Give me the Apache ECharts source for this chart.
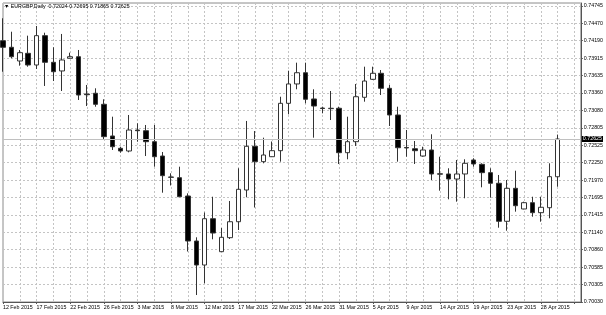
<!DOCTYPE html>
<html>
<head>
<meta charset="utf-8">
<script src="https://cdn.jsdelivr.net/npm/echarts@6/dist/echarts.min.js"></script>
<style>html,body{margin:0;padding:0;background:#fff}#c{width:606px;height:315px}</style>
</head>
<body>
<div id="c"></div>
<script>
const symbolName = 'EURGBP,Daily';
const dates = ['12 Feb 2015','13 Feb 2015','15 Feb 2015','16 Feb 2015','17 Feb 2015','18 Feb 2015','19 Feb 2015','20 Feb 2015','22 Feb 2015','23 Feb 2015','24 Feb 2015','25 Feb 2015','26 Feb 2015','27 Feb 2015','1 Mar 2015','2 Mar 2015','3 Mar 2015','4 Mar 2015','5 Mar 2015','6 Mar 2015','8 Mar 2015','9 Mar 2015','10 Mar 2015','11 Mar 2015','12 Mar 2015','13 Mar 2015','15 Mar 2015','16 Mar 2015','17 Mar 2015','18 Mar 2015','19 Mar 2015','20 Mar 2015','22 Mar 2015','23 Mar 2015','24 Mar 2015','25 Mar 2015','26 Mar 2015','27 Mar 2015','29 Mar 2015','30 Mar 2015','31 Mar 2015','1 Apr 2015','2 Apr 2015','3 Apr 2015','5 Apr 2015','6 Apr 2015','7 Apr 2015','8 Apr 2015','9 Apr 2015','10 Apr 2015','12 Apr 2015','13 Apr 2015','14 Apr 2015','15 Apr 2015','16 Apr 2015','17 Apr 2015','19 Apr 2015','20 Apr 2015','21 Apr 2015','22 Apr 2015','23 Apr 2015','24 Apr 2015','26 Apr 2015','27 Apr 2015','28 Apr 2015','29 Apr 2015','30 Apr 2015'];
const openP = [0.74190,0.74085,0.73867,0.73989,0.73803,0.74270,0.73846,0.73708,0.73910,0.73935,0.73341,0.73353,0.73177,0.72673,0.72477,0.72434,0.72768,0.72757,0.72582,0.72354,0.72020,0.72009,0.71717,0.71001,0.70619,0.71356,0.70831,0.71054,0.71308,0.71813,0.72509,0.72264,0.72343,0.72439,0.73193,0.73501,0.73680,0.73262,0.73118,0.73108,0.73114,0.72407,0.72582,0.73289,0.73575,0.73671,0.73432,0.73007,0.72490,0.72470,0.72354,0.72450,0.72071,0.72068,0.71988,0.72068,0.72291,0.72222,0.72089,0.71920,0.71315,0.71840,0.71511,0.71611,0.71452,0.71531,0.72024];
const closeP = [0.74085,0.73935,0.73999,0.73803,0.74270,0.73846,0.73696,0.73883,0.73935,0.73325,0.73330,0.73177,0.72662,0.72502,0.72434,0.72768,0.72757,0.72582,0.72343,0.72041,0.72015,0.71706,0.71001,0.70619,0.71356,0.71128,0.71060,0.71308,0.71824,0.72509,0.72264,0.72370,0.72439,0.73193,0.73501,0.73680,0.73257,0.73150,0.73110,0.73114,0.72407,0.72582,0.73298,0.73548,0.73671,0.73432,0.73007,0.72486,0.72482,0.72439,0.72450,0.72068,0.72065,0.71988,0.72068,0.72238,0.72227,0.72089,0.71920,0.71315,0.71840,0.71563,0.71611,0.71452,0.71538,0.72025,0.72625];
const lowP = [0.73696,0.73910,0.73792,0.73776,0.73739,0.73469,0.73548,0.73389,0.73905,0.73246,0.73150,0.73139,0.72609,0.72450,0.72407,0.72413,0.72582,0.72354,0.72184,0.71770,0.71885,0.71700,0.70834,0.70141,0.70328,0.71028,0.70826,0.71033,0.71176,0.71697,0.71534,0.72238,0.72338,0.72264,0.73018,0.73416,0.73193,0.72646,0.73034,0.72927,0.72227,0.72302,0.72514,0.73219,0.73564,0.73325,0.72832,0.72264,0.72343,0.72227,0.72343,0.71972,0.71802,0.71665,0.71627,0.71681,0.72184,0.71856,0.71691,0.71213,0.71165,0.71468,0.71506,0.71388,0.71308,0.71363,0.71865];
const highP = [0.74547,0.74333,0.74042,0.74270,0.74424,0.74317,0.74085,0.74297,0.73999,0.74042,0.73485,0.73432,0.73257,0.72980,0.72502,0.73007,0.72875,0.72848,0.72848,0.72418,0.72079,0.72184,0.71760,0.71060,0.71455,0.71706,0.71208,0.71638,0.72159,0.72912,0.72752,0.72646,0.72585,0.73298,0.73712,0.73840,0.73840,0.73416,0.73139,0.73389,0.73139,0.72980,0.73501,0.73776,0.73776,0.73723,0.73485,0.73139,0.72768,0.72593,0.72502,0.72700,0.72343,0.72159,0.72291,0.72302,0.72318,0.72238,0.72159,0.72052,0.71972,0.72120,0.71627,0.71706,0.71706,0.72238,0.72695];
const priceTicks = ['0.70030','0.70305','0.70585','0.70860','0.71140','0.71415','0.71695','0.71970','0.72250','0.72525','0.72805','0.73080','0.73360','0.73635','0.73915','0.74190','0.74470','0.74745'];

const yMin = 0.70030, yStep = 0.0027735, yMax = 0.74790;
const xMax = 68.76;
const FONT = 'Liberation Sans';
const FS = 5.3;
const last = dates.length - 1;
const candles = dates.map((d, i) => [i, openP[i], closeP[i], lowP[i], highP[i]]);
const titleText = '\u25BC ' + symbolName + '  ' + [openP[last], highP[last], lowP[last], closeP[last]].map(v => v.toFixed(5)).join(' ');

const chart = echarts.init(document.getElementById('c'), null, {renderer: 'canvas'});
const gridLine = {show: true, lineStyle: {color: '#c4c4c4', type: [2, 2], width: 1}};
const option = {
  animation: false,
  backgroundColor: '#fff',
  title: {text: titleText, left: 4, top: 4, padding: 0,
    textStyle: {fontSize: FS, fontWeight: 'normal', color: '#000', fontFamily: FONT}},
  grid: {left: 3, right: 24, top: 3, bottom: 13, show: true, borderColor: '#8c8c8c', borderWidth: 1, backgroundColor: '#fff'},
  xAxis: [
    {type: 'value', min: 0, max: xMax, interval: 4, position: 'bottom',
      axisLine: {show: true, onZero: false, lineStyle: {color: '#555'}},
      axisTick: {show: true, length: 2, lineStyle: {color: '#555'}},
      axisLabel: {fontSize: FS, color: '#000', fontFamily: FONT, align: 'left', margin: 3, showMaxLabel: false,
        formatter: v => (Number.isInteger(v) && v % 4 === 0 && v < dates.length) ? dates[v] : ''},
      splitLine: {show: false}},
    {type: 'value', min: 0, max: xMax, interval: 2, position: 'bottom',
      axisLine: {show: false}, axisTick: {show: false}, axisLabel: {show: false},
      splitLine: gridLine}
  ],
  yAxis: {type: 'value', position: 'right', min: yMin, max: yMax, interval: yStep,
    axisLine: {show: true, onZero: false, lineStyle: {color: '#555'}},
    axisTick: {show: true, length: 2, lineStyle: {color: '#555'}},
    axisLabel: {fontSize: FS, color: '#000', fontFamily: FONT, margin: 3, align: 'left', showMaxLabel: false,
      formatter: v => {
        const k = Math.round((v - yMin) / yStep);
        return (k >= 0 && k < priceTicks.length && Math.abs(v - (yMin + k * yStep)) < 1e-6) ? priceTicks[k] : '';
      }},
    splitLine: gridLine},
  series: [
    {type: 'line', data: [], clip: false, z: 1, silent: true,
      markLine: {silent: true, symbol: ['none', 'none'], animation: false, precision: 5,
        lineStyle: {color: '#c0c0c0', type: 'solid', width: 1},
        label: {show: true, position: 'end', distance: 1, formatter: closeP[last].toFixed(5),
          backgroundColor: '#000', color: '#fff', fontSize: FS, fontFamily: FONT, padding: [1, 1, 0, 1]},
        data: [{yAxis: closeP[last]}]}},
    {type: 'candlestick', xAxisIndex: 0, data: candles, barWidth: 5, z: 3, clip: true,
      itemStyle: {color: '#fff', color0: '#000', borderColor: '#333', borderColor0: '#333', borderWidth: 1}}
  ]
};
chart.setOption(option);
</script>
</body>
</html>
